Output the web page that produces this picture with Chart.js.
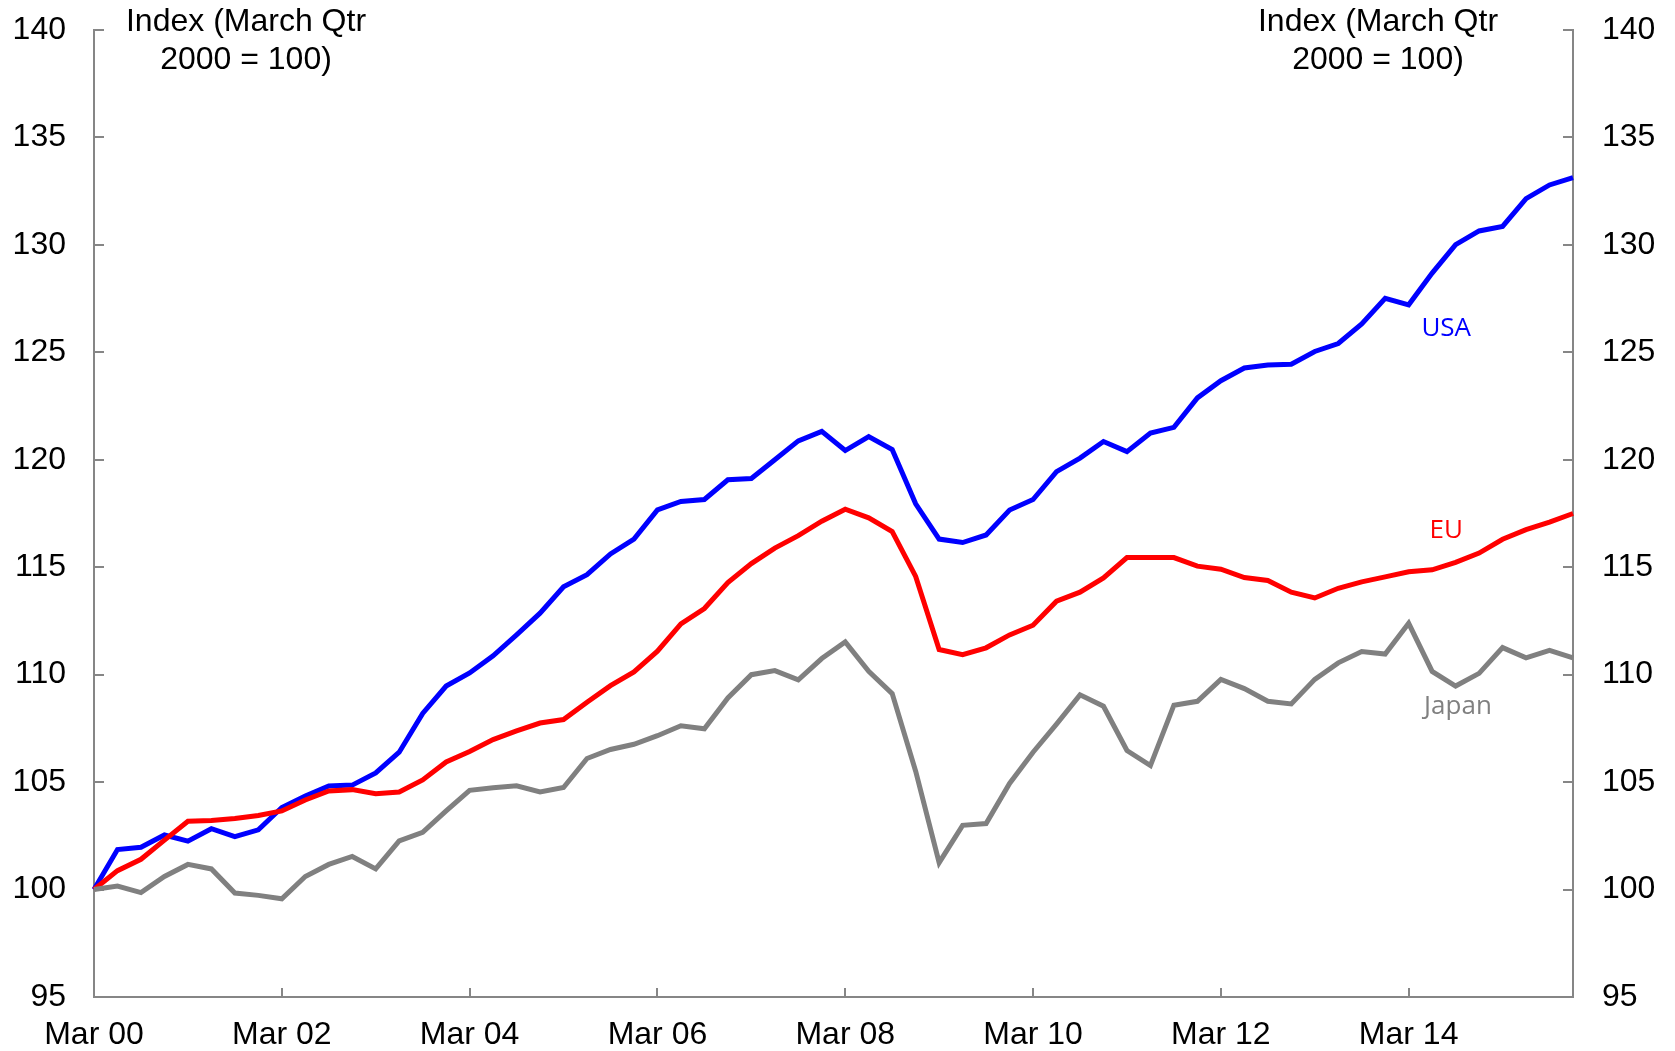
<!DOCTYPE html>
<html lang="en">

<head>
    <meta charset="UTF-8">
    <script src="https://cdn.jsdelivr.net/npm/chart.js@4.4.1/dist/chart.umd.min.js"></script>
    <title>Index (March Qtr 2000 = 100)</title>
    <style>
        body { margin: 0; background: #fff; }
        canvas { display: block; }
    </style>
</head>

<body>
    <canvas id="chart1" width="1675" height="1051"></canvas>

    <script>
        // quarterly, Mar 00 .. Dec 15
        const years = ['00', '01', '02', '03', '04', '05', '06', '07', '08', '09', '10', '11', '12', '13', '14', '15'];
        const months = ['Mar', 'Jun', 'Sep', 'Dec'];
        const yTicks = [95, 100, 105, 110, 115, 120, 125, 130, 135, 140];
        const unitTitle = ['Index (March Qtr', '2000 = 100)'];

        const usa = [100, 101.86, 101.97, 102.54, 102.25, 102.83, 102.46, 102.78, 103.82, 104.35,
            104.82, 104.86, 105.43, 106.39, 108.2, 109.47, 110.08, 110.88, 111.85, 112.86,
            114.09, 114.65, 115.62, 116.31, 117.67, 118.06, 118.15, 119.07, 119.13, 120.0,
            120.88, 121.32, 120.43, 121.08, 120.48, 117.95, 116.31, 116.15, 116.5, 117.66,
            118.15, 119.45, 120.08, 120.85, 120.38, 121.24, 121.51, 122.88, 123.68, 124.27,
            124.41, 124.45, 125.04, 125.41, 126.32, 127.51, 127.21, 128.69, 130.01, 130.65,
            130.86, 132.15, 132.79, 133.13];
        const eu = [100, 100.88, 101.41, 102.3, 103.18, 103.21, 103.31, 103.45, 103.66, 104.17,
            104.59, 104.65, 104.46, 104.54, 105.1, 105.94, 106.42, 106.98, 107.38, 107.75,
            107.91, 108.72, 109.49, 110.13, 111.09, 112.36, 113.08, 114.29, 115.17, 115.89,
            116.47, 117.14, 117.7, 117.3, 116.66, 114.57, 111.17, 110.93, 111.25, 111.85,
            112.3, 113.42, 113.84, 114.5, 115.45, 115.45, 115.45, 115.05, 114.91, 114.52,
            114.38, 113.84, 113.57, 114.02, 114.32, 114.55, 114.79, 114.88, 115.23, 115.66,
            116.3, 116.75, 117.1, 117.5];
        const japan = [100, 100.16, 99.86, 100.61, 101.17, 100.96, 99.84, 99.73, 99.57, 100.61,
            101.17, 101.54, 100.96, 102.26, 102.66, 103.66, 104.62, 104.74, 104.83, 104.54,
            104.75, 106.1, 106.52, 106.76, 107.16, 107.62, 107.48, 108.92, 110.0, 110.19,
            109.76, 110.75, 111.52, 110.16, 109.12, 105.51, 101.25, 102.99, 103.07, 104.94,
            106.39, 107.7, 109.06, 108.53, 106.47, 105.77, 108.58, 108.76, 109.78, 109.35,
            108.76, 108.64, 109.78, 110.55, 111.08, 110.96, 112.39, 110.15, 109.47, 110.06,
            111.26, 110.78, 111.13, 110.78];

        const xLabels = [];
        years.forEach(yr => months.forEach(m => xLabels.push(m + ' ' + yr)));

        const axisGrey = '#868686';
        const tickFont = { family: '"Liberation Sans", Arial, sans-serif', size: 32 };

        // series name tags, placed by (category index, value)
        const seriesTags = [
            { text: 'USA', color: '#0000ff', at: [57.6, 126.1] },
            { text: 'EU', color: '#ff0000', at: [57.6, 116.7] },
            { text: 'Japan', color: '#808080', at: [58.1, 108.5] }
        ];

        const textPlugin = {
            id: 'texts',
            afterDraw(chart) {
                const ctx = chart.ctx;
                const xs = chart.scales.x, ys = chart.scales.y;
                ctx.save();
                ctx.fillStyle = '#000';
                ctx.font = '32px "Liberation Sans", Arial, sans-serif';
                ctx.textAlign = 'center';
                ctx.textBaseline = 'middle';
                unitTitle.forEach((line, i) => {
                    ctx.fillText(line, 246, 22 + i * 38);
                    ctx.fillText(line, 1378, 22 + i * 38);
                });
                ctx.font = '26px "Open Sans", sans-serif';
                seriesTags.forEach(t => {
                    ctx.fillStyle = t.color;
                    ctx.fillText(t.text, xs.getPixelForValue(t.at[0]), ys.getPixelForValue(t.at[1]));
                });
                ctx.restore();
            }
        };

        const lineStyle = (label, data, color) => ({
            label: label,
            data: data,
            borderColor: color,
            backgroundColor: color,
            borderWidth: 5,
            pointRadius: 0,
            tension: 0,
            fill: false,
            yAxisID: 'y'
        });

        // pin axis sizes so the plot area matches the original
        const fixSize = (w, h) => s => {
            if (w) s.width = w;
            if (h) s.height = h;
            s.paddingTop = 0;
            s.paddingBottom = 0;
            s.paddingLeft = 0;
            s.paddingRight = 0;
        };

        new Chart(document.getElementById('chart1').getContext('2d'), {
            type: 'line',
            data: {
                labels: xLabels,
                datasets: [
                    lineStyle('Japan', japan, '#808080'),
                    lineStyle('EU', eu, '#ff0000'),
                    lineStyle('USA', usa, '#0000ff')
                ]
            },
            options: {
                responsive: false,
                animation: false,
                devicePixelRatio: 1,
                layout: { padding: { top: 30, left: 0, right: 0, bottom: 0 } },
                plugins: { legend: { display: false }, tooltip: { enabled: false } },
                scales: {
                    x: {
                        type: 'category',
                        offset: false,
                        border: { color: axisGrey, width: 2 },
                        grid: { drawOnChartArea: false, color: axisGrey, lineWidth: 2, tickLength: -9 },
                        ticks: {
                            autoSkip: false,
                            maxRotation: 0,
                            color: '#000',
                            font: tickFont,
                            padding: 28,
                            callback: function (value, index) {
                                return index % 8 === 0 ? xLabels[index] : null;
                            }
                        },
                        afterFit: fixSize(0, 54)
                    },
                    y: {
                        position: 'left',
                        min: 95,
                        max: 140,
                        border: { color: axisGrey, width: 2 },
                        grid: { drawOnChartArea: false, color: axisGrey, lineWidth: 2, tickLength: -10 },
                        afterBuildTicks: s => { s.ticks = yTicks.map(v => ({ value: v })); },
                        ticks: { color: '#000', font: tickFont, padding: 38 },
                        afterFit: fixSize(94, 0)
                    },
                    y2: {
                        position: 'right',
                        min: 95,
                        max: 140,
                        border: { color: axisGrey, width: 2 },
                        grid: { drawOnChartArea: false, color: axisGrey, lineWidth: 2, tickLength: -10 },
                        afterBuildTicks: s => { s.ticks = yTicks.map(v => ({ value: v })); },
                        ticks: { color: '#000', font: tickFont, padding: 39 },
                        afterFit: fixSize(102, 0)
                    }
                }
            },
            plugins: [textPlugin]
        });
    </script>
</body>

</html>
